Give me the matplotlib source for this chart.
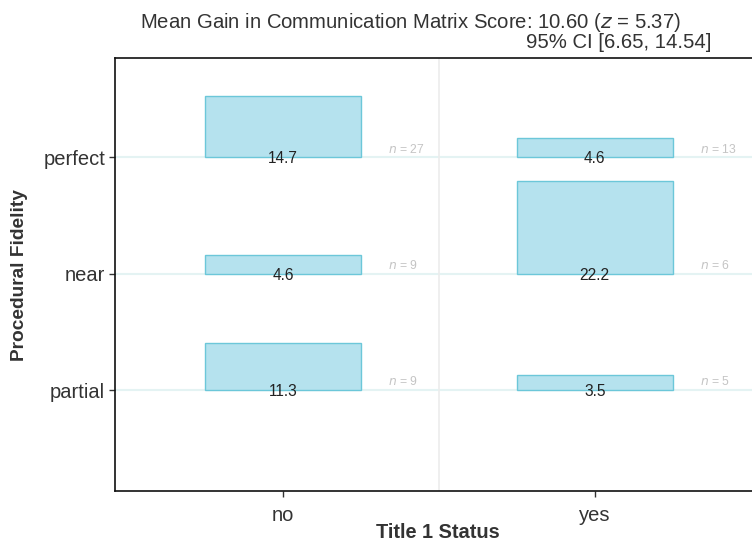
import numpy as np
import matplotlib
matplotlib.use("Agg")
import matplotlib.pyplot as plt
from matplotlib.patches import Rectangle

plt.rcParams['font.family'] = ['Liberation Sans', 'DejaVu Sans']

status = ['no', 'yes']
fidelity = ['partial', 'near', 'perfect']
gain_no = [11.3, 4.6, 14.7]
gain_yes = [3.5, 22.2, 4.6]
n_no = [9, 9, 27]
n_yes = [5, 6, 13]

gains = [gain_no, gain_yes]
ns = [n_no, n_yes]

fig = plt.figure(figsize=(7.52, 5.42), dpi=100)
W, H = 752, 542
# axes runs past the right edge of the figure, like the reference crop
ax = fig.add_axes([115 / W, 1 - 491 / H, (763 - 115) / W, (491 - 58) / H])

scale = 0.8 / 22.2   # value -> row units
bar_w = 0.5
fill = '#b5e2ee'
edge = '#6cc7d9'

ax.set_xlim(0.46, 2.54)
ax.set_ylim(0.133, 3.855)

for r in range(3):
    ax.axhline(r + 1, color='#e4f3f3', lw=1.5, zorder=0)
ax.axvline(1.5, color='#ececec', lw=1.2, zorder=0)

for i, s in enumerate(status):
    x = i + 1
    for r in range(3):
        y = r + 1
        v = gains[i][r]
        ax.add_patch(Rectangle((x - bar_w / 2, y), bar_w, v * scale,
                               facecolor=fill, edgecolor=edge, lw=1.0, zorder=2))
        ax.text(x, y - 0.012, f"{v:.1f}", ha='center', va='center',
                fontsize=11.2, color='#222222', zorder=3)
        ax.text(x + 0.337, y + 0.07, f"$n$ = {ns[i][r]}", ha='left', va='center',
                fontsize=8.8, color='#c4c4c4', zorder=3)

ax.set_xticks([1, 2])
ax.set_xticklabels(status, fontsize=14.5, color='#333333')
ax.set_yticks([1, 2, 3])
ax.set_yticklabels(fidelity, fontsize=14.5, color='#333333')
ax.tick_params(axis='both', length=4, width=1, color='#333333', pad=3)
ax.tick_params(axis='x', pad=7)

for sp in ['left', 'bottom', 'top']:
    ax.spines[sp].set_linewidth(1.2)
    ax.spines[sp].set_color('#111111')
ax.spines['right'].set_visible(False)

fig.text(410 / W, 1 - 22 / H,
         "Mean Gain in Communication Matrix Score: 10.60 ($z$ = 5.37)",
         ha='center', va='center', fontsize=14.6, color='#333333')
fig.text(712 / W, 1 - 42 / H, "95% CI [6.65, 14.54]",
         ha='right', va='center', fontsize=14.6, color='#333333')

fig.text(20 / W, 1 - 275 / H, "Procedural Fidelity", rotation=90, ha='center', va='center',
         fontsize=13.8, fontweight='bold', color='#333333')
fig.text(438 / W, 1 - 533 / H, "Title 1 Status", ha='center', va='center',
         fontsize=14.4, fontweight='bold', color='#333333')

fig.savefig("out.png", dpi=100)
